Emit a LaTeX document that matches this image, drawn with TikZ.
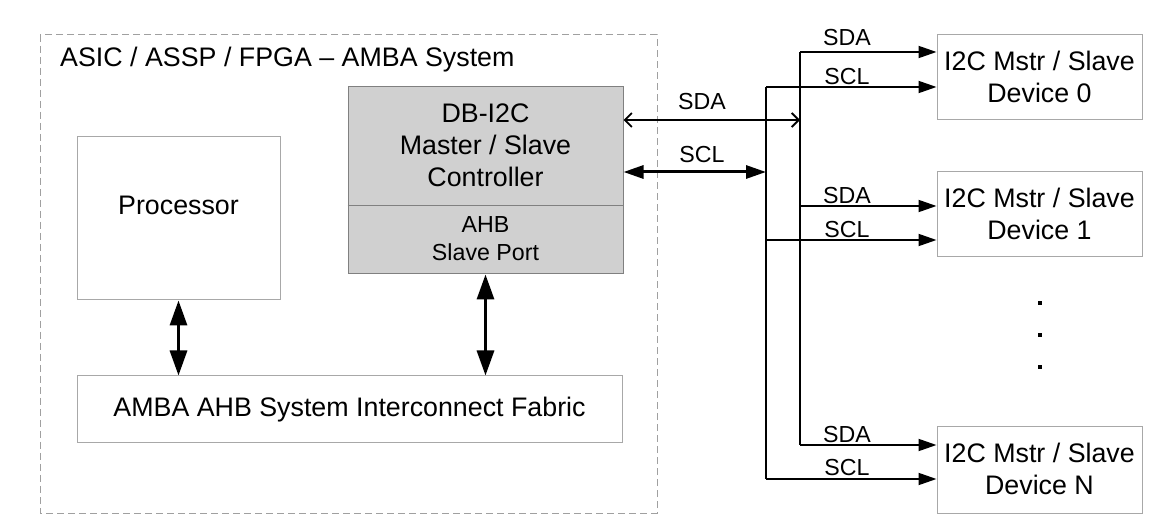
\documentclass[tikz,border=0pt]{standalone}
\usepackage{fontspec}
\setmainfont{Liberation Sans}
\usetikzlibrary{arrows.meta}
\definecolor{boxgray}{HTML}{A8A8A8}
\definecolor{dbgray}{HTML}{808080}
\definecolor{dbfill}{HTML}{D0D0D0}
\definecolor{dashgray}{HTML}{A0A0A0}
\begin{document}
\begin{tikzpicture}[x=1pt,y=-1pt,
  box/.style={draw=boxgray, line width=1pt, inner sep=0pt, fill=white},
  dbbox/.style={draw=dbgray, line width=1pt, inner sep=0pt, fill=dbfill},
  big/.style={font=\fontsize{26.8}{32}\selectfont, align=center, inner sep=0pt},
  small/.style={font=\fontsize{23.2}{28}\selectfont, align=center, inner sep=0pt},
  lbl/.style={font=\fontsize{23.2}{28}\selectfont, inner sep=0pt},
  busline/.style={line width=1.8pt},
  devarr/.style={line width=1.8pt, -{Triangle[length=18pt,width=12pt]}},
  sclarr/.style={line width=3pt, {Triangle[length=20pt,width=13pt]}-{Triangle[length=20pt,width=13pt]}},
  sdaarr/.style={line width=1.8pt, {Straight Barb[length=7pt,width=14pt]}-{Straight Barb[length=7pt,width=14pt]}},
  bigarr/.style={line width=3.2pt, {Triangle[length=25pt,width=17pt]}-{Triangle[length=25pt,width=17pt]}},
  dotnode/.style={fill=black, minimum size=3.5pt, inner sep=0pt},
]
\useasboundingbox[fill=white] (0,0) rectangle (1163,529);

% system boundary
\draw[dashgray, line width=1pt, dash pattern=on 7pt off 4pt] (40,35) rectangle (657,513);
\node[big, anchor=west] (title) at (60,60) {ASIC / ASSP / FPGA – AMBA System};

% processor
\node[box, minimum width=203pt, minimum height=163pt] (proc) at (178.5,218.5) {};
\node[big] (proctext) at (178.5,205) {Processor};

% DB-I2C controller
\node[dbbox, minimum width=275pt, minimum height=187pt] (db) at (485.5,180.5) {};
\draw[dbgray, line width=1pt] (db.west |- 0,206) -- (db.east |- 0,206);
\node[big] (dbtext) at (485.5,145) {DB-I2C\\Master / Slave\\Controller};
\node[small] (porttext) at (485.5,239) {AHB\\Slave Port};

% fabric
\node[box, minimum width=545pt, minimum height=67pt] (fabric) at (349.5,409.5) {};
\node[big] (fabtext) at (349.5,410) {AMBA AHB System Interconnect Fabric};

% vertical arrows
\draw[bigarr] (proc.south) -- (proc.south |- fabric.north);
\draw[bigarr] (db.south) -- (db.south |- fabric.north);

% devices
\node[box, minimum width=205pt, minimum height=85pt] (dev0) at (1039.5,77.5) {};
\node[big] (dev0text) at (1039.5,77) {I2C Mstr / Slave\\Device 0};
\node[box, minimum width=205pt, minimum height=85pt] (dev1) at (1039.5,214.5) {};
\node[big] (dev1text) at (1039.5,214) {I2C Mstr / Slave\\Device 1};
\node[box, minimum width=205pt, minimum height=86pt] (devN) at (1039.5,470) {};
\node[big] (devNtext) at (1039.5,469) {I2C Mstr / Slave\\Device N};

% dots
\node[dotnode] (d1) at (1040,303) {};
\node[dotnode] (d2) at (1040,335) {};
\node[dotnode] (d3) at (1040,367) {};

% bus coordinates
\coordinate (sdaj) at (800,120);
\coordinate (sclj) at (766,172);
\coordinate (sda0) at (800,52);
\coordinate (scl0) at (766,87);
\coordinate (sda1) at (800,206);
\coordinate (scl1) at (766,240);
\coordinate (sdaN) at (800,445);
\coordinate (sclN) at (766,479);

% controller links
\draw[sdaarr] (db.east |- sdaj) -- (sdaj);
\draw[sclarr] (db.east |- sclj) -- (sclj);
\node[lbl] (sdalbl) at (702,102) {SDA};
\node[lbl] (scllbl) at (702,155) {SCL};

% buses
\draw[busline] (sda0) -- (sdaN);
\draw[busline] (scl0) -- (sclN);

% device links
\draw[devarr] (sda0) -- (sda0 -| dev0.west);
\draw[devarr] (scl0) -- (scl0 -| dev0.west);
\draw[devarr] (sda1) -- (sda1 -| dev1.west);
\draw[devarr] (scl1) -- (scl1 -| dev1.west);
\draw[devarr] (sdaN) -- (sdaN -| devN.west);
\draw[devarr] (sclN) -- (sclN -| devN.west);

\node[lbl] (l1) at (847,38) {SDA};
\node[lbl] (l2) at (847,77) {SCL};
\node[lbl] (l3) at (847,196) {SDA};
\node[lbl] (l4) at (847,230) {SCL};
\node[lbl] (l5) at (847,435) {SDA};
\node[lbl] (l6) at (847,468) {SCL};
\end{tikzpicture}
\end{document}
